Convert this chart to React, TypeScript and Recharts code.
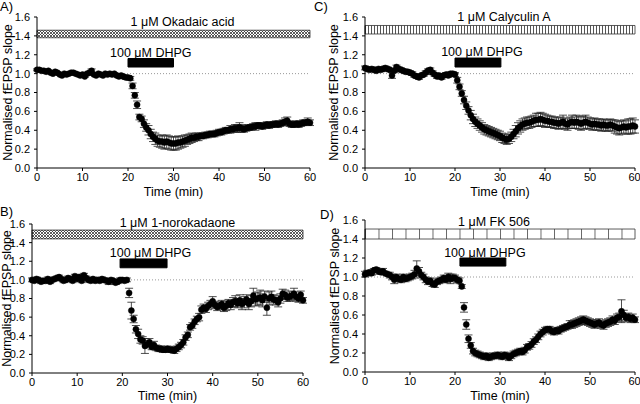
import { ComposedChart, Line, ErrorBar, XAxis, YAxis, ReferenceArea, ReferenceLine } from "recharts";

// sampling times (min), one point every 30 s
const TIME = [
  0, 0.5, 1, 1.5, 2, 2.5, 3, 3.5, 4, 4.5,
  5, 5.5, 6, 6.5, 7, 7.5, 8, 8.5, 9, 9.5,
  10, 10.5, 11, 11.5, 12, 12.5, 13, 13.5, 14, 14.5,
  15, 15.5, 16, 16.5, 17, 17.5, 18, 18.5, 19, 19.5,
  20, 20.5, 21, 21.5, 22, 22.5, 23, 23.5, 24, 24.5,
  25, 25.5, 26, 26.5, 27, 27.5, 28, 28.5, 29, 29.5,
  30, 30.5, 31, 31.5, 32, 32.5, 33, 33.5, 34, 34.5,
  35, 35.5, 36, 36.5, 37, 37.5, 38, 38.5, 39, 39.5,
  40, 40.5, 41, 41.5, 42, 42.5, 43, 43.5, 44, 44.5,
  45, 45.5, 46, 46.5, 47, 47.5, 48, 48.5, 49, 49.5,
  50, 50.5, 51, 51.5, 52, 52.5, 53, 53.5, 54, 54.5,
  55, 55.5, 56, 56.5, 57, 57.5, 58, 58.5, 59, 59.5,
  60,
];

const Y_TICKS = [0, 0.2, 0.4, 0.6, 0.8, 1.0, 1.2, 1.4, 1.6];
const X_TICKS = [0, 10, 20, 30, 40, 50, 60];

// A) okadaic acid
const okadaic = [
  1.04, 1.04, 1.03, 1.03, 1.02, 1.03, 1.01, 1.0, 1.02, 1.01,
  0.99, 0.98, 1.0, 0.99, 1.0, 1.01, 1.01, 1.0, 0.99, 0.98,
  0.99, 0.97, 1.0, 1.01, 1.03, 0.99, 0.98, 1.0, 0.99, 0.98,
  1.0, 0.99, 1.0, 0.99, 1.0, 0.98, 0.97, 0.98, 0.97, 0.96,
  0.96, 0.95, 0.87, 0.77, 0.67, 0.54, 0.52, 0.47, 0.43, 0.4,
  0.36, 0.33, 0.31, 0.29, 0.28, 0.28, 0.27, 0.28, 0.27, 0.26,
  0.26, 0.26, 0.27, 0.27, 0.28, 0.29, 0.3, 0.31, 0.32, 0.32,
  0.33, 0.33, 0.34, 0.34, 0.35, 0.35, 0.36, 0.36, 0.36, 0.37,
  0.38, 0.38, 0.39, 0.4, 0.4, 0.41, 0.41, 0.42, 0.42, 0.43,
  0.42, 0.41, 0.42, 0.43, 0.43, 0.44, 0.44, 0.45, 0.45, 0.44,
  0.45, 0.46, 0.45, 0.46, 0.46, 0.47, 0.46, 0.47, 0.48, 0.49,
  0.5, 0.47, 0.46, 0.46, 0.47, 0.46, 0.47, 0.48, 0.48, 0.49,
  0.48,
];
const okadaicErr = [
  0.01, 0.01, 0.01, 0.01, 0.01, 0.01, 0.01, 0.01, 0.01, 0.01,
  0.01, 0.01, 0.01, 0.01, 0.01, 0.01, 0.01, 0.01, 0.01, 0.01,
  0.01, 0.01, 0.01, 0.01, 0.02, 0.01, 0.01, 0.01, 0.01, 0.01,
  0.01, 0.01, 0.01, 0.01, 0.01, 0.01, 0.01, 0.01, 0.01, 0.02,
  0.02, 0.02, 0.03, 0.03, 0.04, 0.03, 0.03, 0.04, 0.04, 0.05,
  0.05, 0.05, 0.06, 0.06, 0.06, 0.07, 0.07, 0.07, 0.07, 0.07,
  0.07, 0.07, 0.07, 0.06, 0.06, 0.06, 0.05, 0.05, 0.05, 0.04,
  0.04, 0.04, 0.03, 0.03, 0.03, 0.03, 0.03, 0.03, 0.03, 0.03,
  0.03, 0.03, 0.03, 0.03, 0.03, 0.04, 0.03, 0.04, 0.04, 0.05,
  0.04, 0.03, 0.03, 0.03, 0.03, 0.03, 0.04, 0.03, 0.03, 0.03,
  0.03, 0.03, 0.03, 0.03, 0.03, 0.03, 0.03, 0.03, 0.03, 0.04,
  0.04, 0.03, 0.03, 0.03, 0.03, 0.03, 0.03, 0.03, 0.03, 0.04,
  0.03,
];

// B) 1-norokadaone
const norokadaone = [
  1.0, 0.99, 1.01, 1.0, 0.98, 0.99, 0.99, 1.01, 0.98, 1.0,
  1.01, 1.02, 1.03, 1.01, 0.99, 1.0, 1.02, 1.01, 0.99, 1.04,
  1.01, 1.03, 0.99, 1.05, 1.02, 1.0, 0.99, 1.01, 0.99, 1.0,
  0.99, 1.01, 1.0, 0.99, 0.98, 1.0, 0.99, 0.97, 0.98, 1.0,
  1.0, 0.99, 1.0, 0.86, 0.67, 0.58, 0.47, 0.42, 0.36, 0.35,
  0.29, 0.31, 0.33, 0.28, 0.3, 0.27, 0.26, 0.26, 0.25, 0.25,
  0.26, 0.25, 0.25, 0.24, 0.26, 0.28, 0.3, 0.33, 0.38, 0.41,
  0.49, 0.51, 0.55, 0.58, 0.6, 0.68, 0.7, 0.69, 0.72, 0.74,
  0.77, 0.73, 0.71, 0.72, 0.74, 0.7, 0.72, 0.75, 0.73, 0.76,
  0.77, 0.75, 0.78, 0.74, 0.76, 0.79, 0.74, 0.77, 0.83, 0.79,
  0.8, 0.81, 0.78, 0.82, 0.7, 0.8, 0.82, 0.79, 0.78, 0.76,
  0.8, 0.85, 0.84, 0.81, 0.82, 0.83, 0.85, 0.82, 0.8, 0.84,
  0.78,
];
const norokadaoneErr = [
  0.02, 0.02, 0.02, 0.02, 0.02, 0.02, 0.02, 0.02, 0.02, 0.02,
  0.02, 0.02, 0.02, 0.02, 0.02, 0.02, 0.02, 0.02, 0.02, 0.02,
  0.02, 0.02, 0.02, 0.02, 0.02, 0.02, 0.02, 0.02, 0.02, 0.02,
  0.02, 0.02, 0.02, 0.02, 0.03, 0.02, 0.02, 0.02, 0.02, 0.02,
  0.02, 0.02, 0.02, 0.05, 0.09, 0.04, 0.04, 0.05, 0.04, 0.04,
  0.08, 0.04, 0.04, 0.03, 0.04, 0.03, 0.03, 0.03, 0.03, 0.03,
  0.03, 0.03, 0.03, 0.03, 0.03, 0.03, 0.03, 0.03, 0.03, 0.03,
  0.03, 0.03, 0.03, 0.03, 0.04, 0.04, 0.04, 0.04, 0.04, 0.04,
  0.05, 0.04, 0.04, 0.04, 0.04, 0.04, 0.05, 0.04, 0.05, 0.05,
  0.06, 0.05, 0.06, 0.06, 0.06, 0.05, 0.06, 0.06, 0.08, 0.07,
  0.07, 0.08, 0.07, 0.06, 0.08, 0.07, 0.06, 0.05, 0.05, 0.05,
  0.05, 0.05, 0.05, 0.04, 0.05, 0.05, 0.06, 0.05, 0.04, 0.04,
  0.03,
];

// C) calyculin A
const calyculin = [
  1.06, 1.05, 1.04, 1.05, 1.04, 1.03, 1.05, 1.04, 1.05, 1.06,
  1.05, 1.04, 0.98, 1.03, 1.07, 1.05, 1.04, 1.03, 1.02, 1.02,
  1.01, 1.0, 0.98, 0.97, 0.96, 0.98, 0.99, 1.01, 1.03, 1.04,
  1.01, 0.99, 0.97, 0.98, 0.96, 0.98, 0.99, 0.98, 1.0, 1.0,
  0.99, 0.93, 0.86, 0.79, 0.72, 0.66, 0.61, 0.56, 0.52, 0.49,
  0.47, 0.45, 0.43, 0.41, 0.4, 0.39, 0.38, 0.37, 0.36, 0.35,
  0.34, 0.32, 0.31, 0.3, 0.31, 0.33, 0.36, 0.39, 0.42, 0.44,
  0.46, 0.47, 0.48, 0.48, 0.49, 0.5, 0.51, 0.51, 0.52, 0.51,
  0.5, 0.5, 0.49, 0.49, 0.48, 0.48, 0.47, 0.48, 0.49, 0.47,
  0.46, 0.48, 0.49, 0.48, 0.49, 0.48, 0.47, 0.48, 0.49, 0.48,
  0.47, 0.46, 0.47, 0.46, 0.46, 0.45, 0.46, 0.45, 0.45, 0.46,
  0.45, 0.44, 0.43, 0.42, 0.43, 0.44, 0.43, 0.44, 0.44, 0.45,
  0.44,
];
const calyculinErr = [
  0.02, 0.02, 0.02, 0.02, 0.02, 0.02, 0.02, 0.02, 0.02, 0.02,
  0.02, 0.02, 0.03, 0.02, 0.02, 0.02, 0.02, 0.02, 0.02, 0.02,
  0.02, 0.02, 0.02, 0.02, 0.02, 0.02, 0.02, 0.02, 0.02, 0.02,
  0.02, 0.02, 0.02, 0.02, 0.02, 0.02, 0.02, 0.02, 0.02, 0.02,
  0.02, 0.03, 0.03, 0.03, 0.04, 0.04, 0.04, 0.05, 0.05, 0.05,
  0.05, 0.05, 0.05, 0.05, 0.05, 0.05, 0.05, 0.05, 0.05, 0.05,
  0.05, 0.05, 0.05, 0.05, 0.05, 0.05, 0.05, 0.06, 0.06, 0.06,
  0.06, 0.06, 0.06, 0.06, 0.06, 0.06, 0.07, 0.07, 0.07, 0.07,
  0.07, 0.06, 0.06, 0.06, 0.06, 0.06, 0.06, 0.06, 0.07, 0.06,
  0.06, 0.06, 0.07, 0.06, 0.07, 0.07, 0.07, 0.07, 0.07, 0.06,
  0.06, 0.06, 0.06, 0.06, 0.06, 0.06, 0.06, 0.06, 0.06, 0.06,
  0.06, 0.07, 0.07, 0.07, 0.07, 0.07, 0.07, 0.08, 0.08, 0.08,
  0.07,
];

// D) FK 506
const fk506 = [
  1.03, 1.04, 1.05, 1.04, 1.07, 1.08, 1.06, 1.05, 1.06, 1.04,
  1.03, 1.02, 1.0, 0.97, 1.0, 0.98, 0.97, 1.0, 0.98, 0.99,
  1.0, 1.01, 1.03, 1.09, 1.06, 1.02, 1.0, 0.97, 0.95, 0.96,
  0.93, 0.92, 0.95, 0.96, 0.97, 0.99, 0.97, 1.0, 0.98, 0.99,
  0.99, 0.97, 0.96, 0.9, 0.68, 0.5, 0.35, 0.28, 0.22, 0.2,
  0.19, 0.18, 0.17, 0.16, 0.17, 0.15, 0.16, 0.17, 0.17, 0.18,
  0.17, 0.16, 0.18, 0.17, 0.15, 0.17, 0.19, 0.2, 0.21, 0.22,
  0.21, 0.23, 0.26, 0.27, 0.29, 0.32, 0.34, 0.37, 0.4, 0.42,
  0.44, 0.45, 0.45, 0.43, 0.42, 0.44, 0.43, 0.45, 0.46, 0.47,
  0.48, 0.5, 0.5, 0.51, 0.52, 0.53, 0.54, 0.55, 0.54, 0.53,
  0.52, 0.51, 0.5, 0.51, 0.52, 0.5, 0.49, 0.51, 0.52, 0.53,
  0.55, 0.54, 0.57, 0.58, 0.64, 0.6, 0.57, 0.58, 0.56, 0.57,
  0.55,
];
const fk506Err = [
  0.03, 0.03, 0.02, 0.02, 0.02, 0.02, 0.03, 0.02, 0.03, 0.02,
  0.02, 0.03, 0.03, 0.04, 0.03, 0.03, 0.03, 0.03, 0.03, 0.03,
  0.03, 0.03, 0.04, 0.08, 0.04, 0.03, 0.03, 0.03, 0.03, 0.03,
  0.03, 0.03, 0.03, 0.03, 0.03, 0.03, 0.03, 0.04, 0.05, 0.04,
  0.03, 0.03, 0.03, 0.02, 0.05, 0.05, 0.04, 0.03, 0.03, 0.03,
  0.03, 0.03, 0.03, 0.03, 0.03, 0.03, 0.03, 0.03, 0.03, 0.03,
  0.03, 0.03, 0.03, 0.03, 0.03, 0.03, 0.03, 0.03, 0.03, 0.03,
  0.03, 0.03, 0.03, 0.03, 0.03, 0.03, 0.03, 0.03, 0.03, 0.03,
  0.03, 0.03, 0.03, 0.03, 0.03, 0.03, 0.03, 0.03, 0.03, 0.03,
  0.03, 0.04, 0.04, 0.04, 0.04, 0.04, 0.04, 0.04, 0.04, 0.04,
  0.04, 0.04, 0.04, 0.04, 0.04, 0.04, 0.04, 0.04, 0.04, 0.04,
  0.04, 0.04, 0.04, 0.04, 0.12, 0.05, 0.04, 0.04, 0.04, 0.04,
  0.03,
];

const FONT = "'Liberation Sans', Arial, sans-serif";

type Bar = { x1: number; x2: number; y1: number; y2: number; label: string; dx: number; offset: number };

interface PanelProps {
  id: string;
  vals: number[];
  errs: number[];
  left: number;
  top: number;
  width: number;
  height: number;
  plotTop: number;
  plotRight: number;
  yWidth: number;
  xHeight: number;
  yLabelDx: number;
  drug: Bar;
  dhpg: Bar;
  pattern: "cross" | "fine" | "wide";
}

function Pattern({ id, kind }: { id: string; kind: PanelProps["pattern"] }) {
  if (kind === "cross") {
    return (
      <pattern id={id} patternUnits="userSpaceOnUse" width={3} height={3}>
        <rect width={3} height={3} fill="#fff" />
        <path d="M0,0L3,3M3,0L0,3" stroke="#333" strokeWidth={0.8} />
      </pattern>
    );
  }
  if (kind === "fine") {
    return (
      <pattern id={id} patternUnits="userSpaceOnUse" width={3} height={10}>
        <rect width={3} height={10} fill="#fff" />
        <line x1={0.5} y1={0} x2={0.5} y2={10} stroke="#555" strokeWidth={1} />
      </pattern>
    );
  }
  return (
    <pattern id={id} patternUnits="userSpaceOnUse" x={45} width={13.5} height={20}>
      <rect width={13.5} height={20} fill="#fff" />
      <line x1={0.5} y1={0} x2={0.5} y2={20} stroke="#555" strokeWidth={0.9} />
    </pattern>
  );
}

function Panel(p: PanelProps) {
  const data = TIME.map((t, i) => ({ t, v: p.vals[i], e: p.errs[i] }));
  const pid = "pat" + p.id;
  const txt = { fill: "#000", stroke: "none", fontSize: 12.5 };
  return (
    <div style={{ position: "absolute", left: p.left, top: p.top }}>
      <ComposedChart
        width={p.width}
        height={p.height}
        data={data}
        margin={{ top: p.plotTop, right: p.width - p.plotRight, bottom: 0, left: 0 }}
        style={{ fontFamily: FONT }}
      >
        <defs>
          <Pattern id={pid} kind={p.pattern} />
        </defs>
        <XAxis
          dataKey="t"
          type="number"
          domain={[0, 60]}
          ticks={X_TICKS}
          height={p.xHeight}
          tickSize={3}
          tickMargin={2}
          stroke="#000"
          tick={{ fill: "#000", stroke: "none", fontSize: 11 }}
          label={{ value: "Time (min)", position: "insideBottom", offset: 4, ...txt }}
        />
        <YAxis
          type="number"
          domain={[0, 1.6]}
          ticks={Y_TICKS}
          width={p.yWidth}
          tickSize={3}
          tickMargin={4}
          stroke="#000"
          tick={{ fill: "#000", stroke: "none", fontSize: 11 }}
          tickFormatter={(v: number) => v.toFixed(1)}
          label={{ value: "Normalised fEPSP slope", angle: -90, position: "center", dx: p.yLabelDx, ...txt }}
        />
        <ReferenceLine y={1} stroke="#999" strokeDasharray="1 2" strokeWidth={1} />
        <ReferenceArea
          x1={p.drug.x1}
          x2={p.drug.x2}
          y1={p.drug.y1}
          y2={p.drug.y2}
          fill={`url(#${pid})`}
          fillOpacity={1}
          stroke="#333"
          strokeWidth={0.8}
          ifOverflow="visible"
          label={{ value: p.drug.label, position: "top", offset: p.drug.offset, dx: p.drug.dx, ...txt }}
        />
        <ReferenceArea
          x1={p.dhpg.x1}
          x2={p.dhpg.x2}
          y1={p.dhpg.y1}
          y2={p.dhpg.y2}
          fill="#000"
          fillOpacity={1}
          stroke="#000"
          ifOverflow="visible"
          label={{ value: p.dhpg.label, position: "top", offset: p.dhpg.offset, dx: p.dhpg.dx, ...txt }}
        />
        <Line
          dataKey="v"
          stroke="none"
          strokeWidth={0}
          isAnimationActive={false}
          activeDot={false}
          dot={{ r: 3, fill: "#000", stroke: "#000", strokeWidth: 0.5 }}
        >
          <ErrorBar dataKey="e" direction="y" width={4} stroke="#222" strokeWidth={0.8} isAnimationActive={false} />
        </Line>
      </ComposedChart>
    </div>
  );
}

const letter = (txt: string, left: number, top: number) => (
  <span style={{ position: "absolute", left, top, fontFamily: FONT, fontSize: 13, lineHeight: "13px", color: "#000" }}>{txt}</span>
);

export default function App() {
  return (
    <div style={{ position: "absolute", left: 0, top: 0, width: 640, height: 404, background: "#fff", overflow: "hidden" }}>
      <Panel
        id="A" vals={okadaic} errs={okadaicErr}
        left={0} top={0} width={320} height={200}
        plotTop={17} plotRight={310} yWidth={37} xHeight={32} yLabelDx={-10.5}
        pattern="cross"
        drug={{ x1: 0, x2: 60, y1: 1.38, y2: 1.46, label: "1 \u03bcM Okadaic acid", dx: 9, offset: 4 }}
        dhpg={{ x1: 20, x2: 30, y1: 1.07, y2: 1.16, label: "100 \u03bcM DHPG", dx: 0, offset: 2 }}
      />
      <Panel
        id="C" vals={calyculin} errs={calyculinErr}
        left={320} top={0} width={320} height={200}
        plotTop={17} plotRight={315} yWidth={45} xHeight={32} yLabelDx={-8.5}
        pattern="fine"
        drug={{ x1: 0, x2: 60, y1: 1.42, y2: 1.51, label: "1 \u03bcM Calyculin A", dx: 4, offset: 4 }}
        dhpg={{ x1: 20, x2: 30.2, y1: 1.07, y2: 1.165, label: "100 \u03bcM DHPG", dx: 4, offset: 2 }}
      />
      <Panel
        id="B" vals={norokadaone} errs={norokadaoneErr}
        left={0} top={200} width={320} height={204}
        plotTop={24} plotRight={303} yWidth={32} xHeight={31} yLabelDx={-9}
        pattern="cross"
        drug={{ x1: 0, x2: 60, y1: 1.44, y2: 1.535, label: "1 \u03bcM 1-norokadaone", dx: 10, offset: 3 }}
        dhpg={{ x1: 19.5, x2: 29.9, y1: 1.13, y2: 1.225, label: "100 \u03bcM DHPG", dx: 7, offset: 2 }}
      />
      <Panel
        id="D" vals={fk506} errs={fk506Err}
        left={320} top={200} width={320} height={204}
        plotTop={20} plotRight={315} yWidth={45} xHeight={32} yLabelDx={-7.5}
        pattern="wide"
        drug={{ x1: 0, x2: 60, y1: 1.4, y2: 1.505, label: "1 \u03bcM FK 506", dx: -6, offset: 3 }}
        dhpg={{ x1: 21.1, x2: 31.3, y1: 1.115, y2: 1.2, label: "100 \u03bcM DHPG", dx: 2, offset: 1 }}
      />
      {letter("A)", 0, 0)}
      {letter("C)", 314, 0)}
      {letter("B)", 0, 205)}
      {letter("D)", 320, 208)}
    </div>
  );
}
